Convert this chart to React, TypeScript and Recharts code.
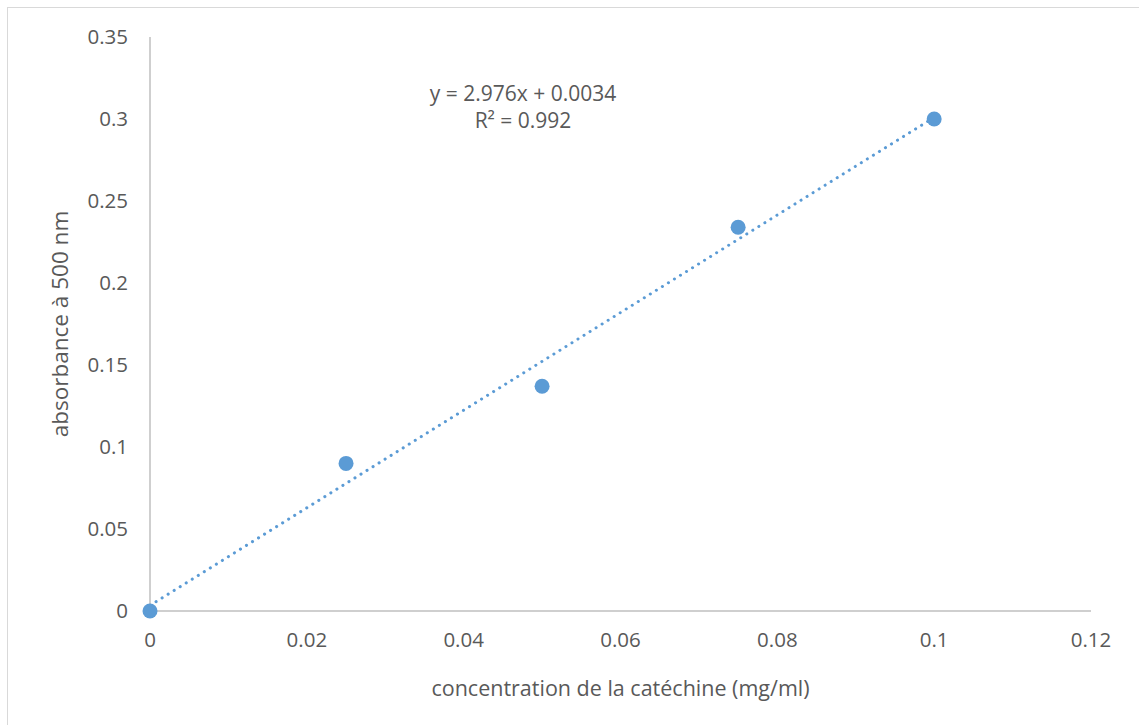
import React from "react";
import { ComposedChart, Scatter, XAxis, YAxis, Customized } from "recharts";

const concentrations = [0, 0.025, 0.05, 0.075, 0.1];
const absorbances = [0, 0.09, 0.137, 0.234, 0.3];
const xTicks = [0, 0.02, 0.04, 0.06, 0.08, 0.1, 0.12];
const yTicks = [0, 0.05, 0.1, 0.15, 0.2, 0.25, 0.3, 0.35];
const slope = 2.976;
const intercept = 0.0034;
const trendRange = [0, 0.1];
const equationLines = ["y = 2.976x + 0.0034", "R² = 0.992"];

const points = concentrations.map((x, i) => ({ x, y: absorbances[i] }));
const trend = trendRange.map((x) => ({ x, y: slope * x + intercept }));

const FONT = "'Open Sans', sans-serif";
const TEXT = "#595959";
const BLUE = "#5b9bd5";

const Equation = (props: any) => {
  const xAxisMap = props.xAxisMap || {};
  const yAxisMap = props.yAxisMap || {};
  const xa: any = Object.values(xAxisMap)[0];
  const ya: any = Object.values(yAxisMap)[0];
  let cx = 523;
  let cy = 93;
  if (xa && ya && xa.scale && ya.scale) {
    cx = xa.scale(0.047);
    cy = ya.scale(0.3295);
  }
  return (
    <g>
      {equationLines.map((t, i) => (
        <text
          key={i}
          x={cx}
          y={cy + i * 27}
          textAnchor="middle"
          dominantBaseline="central"
          fontFamily={FONT}
          fontSize={21}
          fill={TEXT}
        >
          {t}
        </text>
      ))}
    </g>
  );
};

export default function App() {
  return (
    <div
      style={{
        position: "absolute",
        left: 0,
        top: 0,
        width: 1139,
        height: 725,
        background: "#fff",
        overflow: "hidden",
      }}
    >
      <div
        style={{
          position: "absolute",
          left: 7,
          top: 7,
          width: 1200,
          height: 800,
          borderLeft: "1.5px solid #d9d9d9",
          borderTop: "1.5px solid #d9d9d9",
        }}
      />
      <ComposedChart
        width={1139}
        height={725}
        margin={{ top: 37, right: 48, bottom: 84, left: 0 }}
        style={{ position: "absolute", left: 0, top: 0, overflow: "visible" }}
      >
        <XAxis
          type="number"
          dataKey="x"
          domain={[0, 0.12]}
          ticks={xTicks}
          interval={0}
          height={30}
          tickLine={false}
          tickSize={0}
          tickMargin={21}
          axisLine={{ stroke: "#bfbfbf", strokeWidth: 1.5 }}
          tick={{ fontFamily: FONT, fontSize: 20.5, fill: TEXT }}
          label={{
            value: "concentration de la catéchine (mg/ml)",
            position: "bottom",
            offset: 40,
            style: { fontFamily: FONT, fontSize: 21.5, fill: TEXT },
          }}
        />
        <YAxis
          type="number"
          dataKey="y"
          domain={[0, 0.35]}
          ticks={yTicks}
          interval={0}
          width={150}
          tickLine={false}
          tickSize={0}
          tickMargin={22}
          axisLine={{ stroke: "#bfbfbf", strokeWidth: 1.5 }}
          tick={{ fontFamily: FONT, fontSize: 20.5, fill: TEXT }}
          label={{
            value: "absorbance à 500 nm",
            angle: -90,
            position: "insideLeft",
            dx: 55,
            style: { fontFamily: FONT, fontSize: 22.5, fill: TEXT, textAnchor: "middle" },
          }}
        />
        <Scatter
          data={trend}
          line={{ stroke: BLUE, strokeWidth: 3, strokeDasharray: "0.1 7", strokeLinecap: "round" }}
          shape={() => null}
          isAnimationActive={false}
        />
        <Scatter
          data={points}
          fill={BLUE}
          shape={(p: any) => <circle cx={p.cx} cy={p.cy} r={7.5} fill={BLUE} />}
          isAnimationActive={false}
        />
        <Customized component={Equation} />
      </ComposedChart>
    </div>
  );
}
